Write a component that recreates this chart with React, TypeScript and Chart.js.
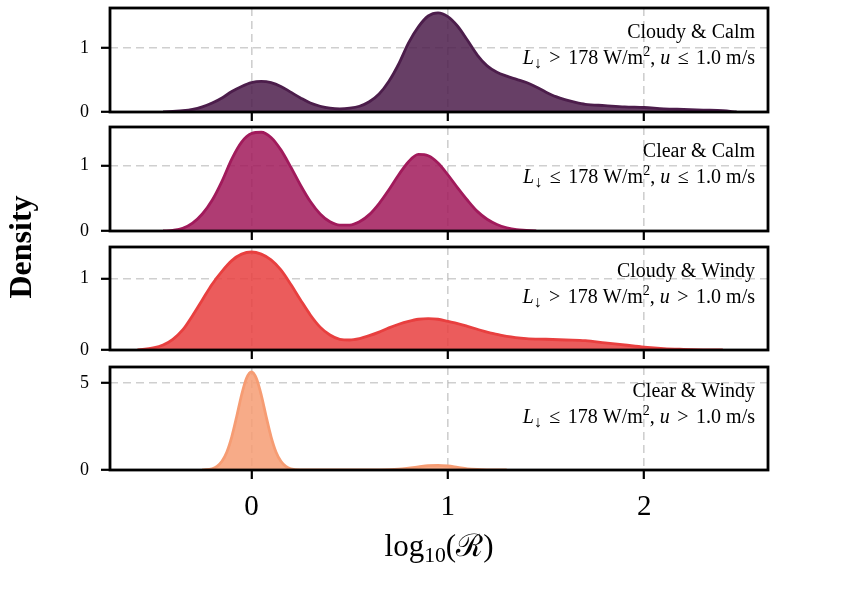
import React, { useEffect, useRef } from 'react';
import { Chart, registerables } from 'chart.js';

Chart.register(...registerables);

// ---------------- data ----------------
const xTicks = [0, 1, 2];
const panelTitles = ['Cloudy & Calm', 'Clear & Calm', 'Cloudy & Windy', 'Clear & Windy'];
const lRelations = ['>', '≤', '>', '≤'];
const uRelations = ['≤', '≤', '>', '>'];
const yTickValues = [[0, 1], [0, 1], [0, 1], [0, 5]];
const yMaxValues = [1.625, 1.59, 1.44, 5.92];

const xCloudyCalm = [-0.45, -0.4, -0.35, -0.3, -0.25, -0.2, -0.15, -0.1, -0.05, 0.0, 0.05, 0.1, 0.15, 0.2, 0.25, 0.3, 0.35, 0.4, 0.45, 0.5, 0.55, 0.6, 0.65, 0.7, 0.75, 0.8, 0.85, 0.9, 0.95, 1.0, 1.05, 1.1, 1.15, 1.2, 1.25, 1.3, 1.35, 1.4, 1.45, 1.5, 1.55, 1.6, 1.65, 1.7, 1.8, 1.9, 2.0, 2.1, 2.2, 2.3, 2.4, 2.47];
const dCloudyCalm = [0.0, 0.01, 0.02, 0.04, 0.08, 0.14, 0.22, 0.32, 0.4, 0.46, 0.48, 0.46, 0.4, 0.31, 0.22, 0.14, 0.09, 0.06, 0.05, 0.06, 0.09, 0.16, 0.28, 0.48, 0.75, 1.08, 1.33, 1.5, 1.55, 1.49, 1.34, 1.12, 0.89, 0.72, 0.62, 0.56, 0.51, 0.46, 0.39, 0.31, 0.24, 0.19, 0.15, 0.12, 0.1, 0.08, 0.07, 0.05, 0.04, 0.03, 0.02, 0.0];

const xClearCalm = [-0.45, -0.4, -0.35, -0.3, -0.25, -0.2, -0.15, -0.1, -0.05, 0.0, 0.05, 0.1, 0.15, 0.2, 0.25, 0.3, 0.35, 0.4, 0.45, 0.5, 0.55, 0.6, 0.65, 0.7, 0.75, 0.8, 0.85, 0.9, 0.95, 1.0, 1.05, 1.1, 1.15, 1.2, 1.25, 1.3, 1.35, 1.4, 1.45];
const dClearCalm = [0.0, 0.01, 0.04, 0.12, 0.26, 0.47, 0.76, 1.1, 1.36, 1.49, 1.51, 1.43, 1.24, 0.98, 0.7, 0.45, 0.26, 0.14, 0.09, 0.09, 0.14, 0.25, 0.42, 0.63, 0.86, 1.06, 1.17, 1.15, 1.04, 0.86, 0.66, 0.47, 0.3, 0.18, 0.1, 0.05, 0.02, 0.01, 0.0];

const xCloudyWindy = [-0.58, -0.5, -0.45, -0.4, -0.35, -0.3, -0.25, -0.2, -0.15, -0.1, -0.05, 0.0, 0.05, 0.1, 0.15, 0.2, 0.25, 0.3, 0.35, 0.4, 0.45, 0.5, 0.55, 0.6, 0.65, 0.7, 0.75, 0.8, 0.85, 0.9, 0.95, 1.0, 1.05, 1.1, 1.15, 1.2, 1.25, 1.3, 1.4, 1.5, 1.6, 1.7, 1.8, 1.9, 2.0, 2.1, 2.2, 2.3, 2.4];
const dCloudyWindy = [0.0, 0.03, 0.07, 0.15, 0.28, 0.48, 0.7, 0.92, 1.1, 1.25, 1.34, 1.37, 1.34, 1.26, 1.12, 0.92, 0.7, 0.49, 0.32, 0.21, 0.15, 0.14, 0.16, 0.2, 0.25, 0.31, 0.36, 0.4, 0.43, 0.44, 0.43, 0.4, 0.37, 0.33, 0.29, 0.25, 0.22, 0.19, 0.16, 0.15, 0.14, 0.13, 0.1, 0.07, 0.04, 0.02, 0.01, 0.003, 0.0];

const xClearWindy = [-0.25, -0.2, -0.175, -0.15, -0.125, -0.1, -0.075, -0.05, -0.025, 0.0, 0.025, 0.05, 0.075, 0.1, 0.125, 0.15, 0.175, 0.2, 0.25, 0.6, 0.7, 0.75, 0.8, 0.85, 0.9, 0.95, 1.0, 1.05, 1.1, 1.15, 1.2, 1.3];
const dClearWindy = [0.0, 0.07, 0.21, 0.5, 1.04, 1.91, 3.07, 4.31, 5.27, 5.64, 5.27, 4.31, 3.07, 1.91, 1.04, 0.5, 0.21, 0.07, 0.0, 0.0, 0.02, 0.05, 0.11, 0.18, 0.25, 0.27, 0.23, 0.15, 0.07, 0.03, 0.01, 0.0];

const seriesX = [xCloudyCalm, xClearCalm, xCloudyWindy, xClearWindy];
const seriesY = [dCloudyCalm, dClearCalm, dCloudyWindy, dClearWindy];

// ---------------- style / layout ----------------
const W = 845;
const H = 614;
const X_MIN = -0.72;
const X_MAX = 2.63;
const AX_LEFT = 110;
const AX_RIGHT = 768;
const PANEL_TOPS = [8, 127, 247, 367];
const PANEL_BOTTOMS = [112, 231, 350, 470];
const Y_AXIS_W = 60;
const X_AXIS_H = 60;
const FONT = "'Liberation Serif', 'Times New Roman', Times, serif";
const LINE_COLORS = [[76, 29, 75], [161, 26, 91], [232, 63, 63], [246, 156, 115]];
const FILL_ALPHA = 0.85;
const GRID_COLOR = 'rgba(160,160,160,0.5)';
const ANN_SIZE = 20;
const REL_GAP = 2.5;

type Seg = { t?: string; gap?: number; it?: boolean; sub?: boolean; sup?: boolean; scale?: number };

function drawSegs(ctx: CanvasRenderingContext2D, segs: Seg[], x: number, y: number, size: number, align: 'right' | 'center') {
  const fontOf = (s: Seg) => `${s.it ? 'italic ' : ''}${s.sub || s.sup ? size * (s.scale ?? 0.7) : size}px ${FONT}`;
  let total = 0;
  const widths = segs.map((s) => {
    let w = 0;
    if (s.gap !== undefined) w = s.gap;
    else {
      ctx.font = fontOf(s);
      w = ctx.measureText(s.t || '').width;
    }
    total += w;
    return w;
  });
  let cx = align === 'right' ? x - total : x - total / 2;
  ctx.textAlign = 'left';
  ctx.textBaseline = 'alphabetic';
  segs.forEach((s, i) => {
    if (s.t) {
      ctx.font = fontOf(s);
      const dy = s.sub ? size * 0.2 : s.sup ? -size * 0.38 : 0;
      ctx.fillText(s.t, cx, y + dy);
    }
    cx += widths[i];
  });
}

function makeConfig(i: number): any {
  const [r, g, b] = LINE_COLORS[i];
  const isLast = i === 3;
  const overlay = {
    id: 'overlay' + i,
    afterDraw(chart: any) {
      const ctx: CanvasRenderingContext2D = chart.ctx;
      const a = chart.chartArea;
      ctx.save();
      ctx.strokeStyle = '#000';
      ctx.lineWidth = 2.8;
      ctx.strokeRect(a.left, a.top, a.right - a.left, a.bottom - a.top);
      ctx.fillStyle = '#000';
      const rx = a.right - 13;
      drawSegs(ctx, [{ t: panelTitles[i] }], rx, a.top + 30, ANN_SIZE, 'right');
      drawSegs(
        ctx,
        [
          { t: 'L', it: true },
          { t: '↓', sub: true, scale: 0.8 },
          { gap: REL_GAP },
          { t: ` ${lRelations[i]} ` },
          { gap: REL_GAP },
          { t: '178 W/m' },
          { t: '2', sup: true },
          { t: ', ' },
          { t: 'u', it: true },
          { gap: REL_GAP },
          { t: ` ${uRelations[i]} ` },
          { gap: REL_GAP },
          { t: '1.0 m/s' },
        ],
        rx,
        a.top + 56,
        ANN_SIZE,
        'right'
      );
      if (isLast) {
        drawSegs(ctx, [{ t: 'log' }, { t: '10', sub: true }, { t: '(ℛ)' }], (a.left + a.right) / 2, 556, 31, 'center');
        ctx.save();
        ctx.translate(23, 247);
        ctx.rotate(-Math.PI / 2);
        ctx.font = `bold 32px ${FONT}`;
        ctx.textAlign = 'center';
        ctx.textBaseline = 'middle';
        ctx.fillText('Density', 0, 0);
        ctx.restore();
      }
      ctx.restore();
    },
  };

  const gridOpts = { color: GRID_COLOR, lineWidth: 1.6, tickLength: 9, tickColor: '#000', tickWidth: 2.2 };

  return {
    type: 'line',
    data: {
      datasets: [
        {
          data: seriesX[i].map((x, k) => ({ x, y: seriesY[i][k] })),
          borderColor: `rgb(${r},${g},${b})`,
          backgroundColor: `rgba(${r},${g},${b},${FILL_ALPHA})`,
          borderWidth: 2.8,
          fill: 'origin',
          pointRadius: 0,
          cubicInterpolationMode: 'monotone',
        },
      ],
    },
    options: {
      animation: false,
      responsive: false,
      events: [],
      layout: {
        padding: {
          left: AX_LEFT - Y_AXIS_W,
          right: W - AX_RIGHT,
          top: PANEL_TOPS[i],
          bottom: H - PANEL_BOTTOMS[i] - X_AXIS_H,
        },
      },
      plugins: { legend: { display: false }, tooltip: { enabled: false }, title: { display: false } },
      scales: {
        x: {
          type: 'linear',
          min: X_MIN,
          max: X_MAX,
          z: 1,
          afterBuildTicks: (s: any) => {
            s.ticks = xTicks.map((v) => ({ value: v }));
          },
          afterFit: (s: any) => {
            s.height = X_AXIS_H;
            s.paddingLeft = 0;
            s.paddingRight = 0;
          },
          grid: gridOpts,
          border: { display: false, dash: [8, 5] },
          ticks: {
            display: isLast,
            color: '#000',
            font: { family: FONT, size: 29 },
            padding: 11,
            maxRotation: 0,
            autoSkip: false,
          },
        },
        y: {
          type: 'linear',
          min: 0,
          max: yMaxValues[i],
          z: 1,
          afterBuildTicks: (s: any) => {
            s.ticks = yTickValues[i].map((v) => ({ value: v }));
          },
          afterFit: (s: any) => {
            s.width = Y_AXIS_W;
            s.paddingTop = 0;
            s.paddingBottom = 0;
          },
          grid: gridOpts,
          border: { display: false, dash: [8, 5] },
          ticks: {
            color: '#000',
            font: { family: FONT, size: 18 },
            padding: 12,
            autoSkip: false,
          },
        },
      },
    },
    plugins: [overlay],
  };
}

export default function App() {
  const canvases = useRef<(HTMLCanvasElement | null)[]>([]);
  useEffect(() => {
    const charts = [0, 1, 2, 3].map((i) => new Chart(canvases.current[i] as HTMLCanvasElement, makeConfig(i)));
    return () => charts.forEach((c) => c.destroy());
  }, []);
  return (
    <div style={{ position: 'absolute', left: 0, top: 0, width: W, height: H, background: '#fff' }}>
      {[0, 1, 2, 3].map((i) => (
        <canvas
          key={i}
          ref={(el) => {
            canvases.current[i] = el;
          }}
          width={W}
          height={H}
          style={{ position: 'absolute', left: 0, top: 0 }}
        />
      ))}
    </div>
  );
}
